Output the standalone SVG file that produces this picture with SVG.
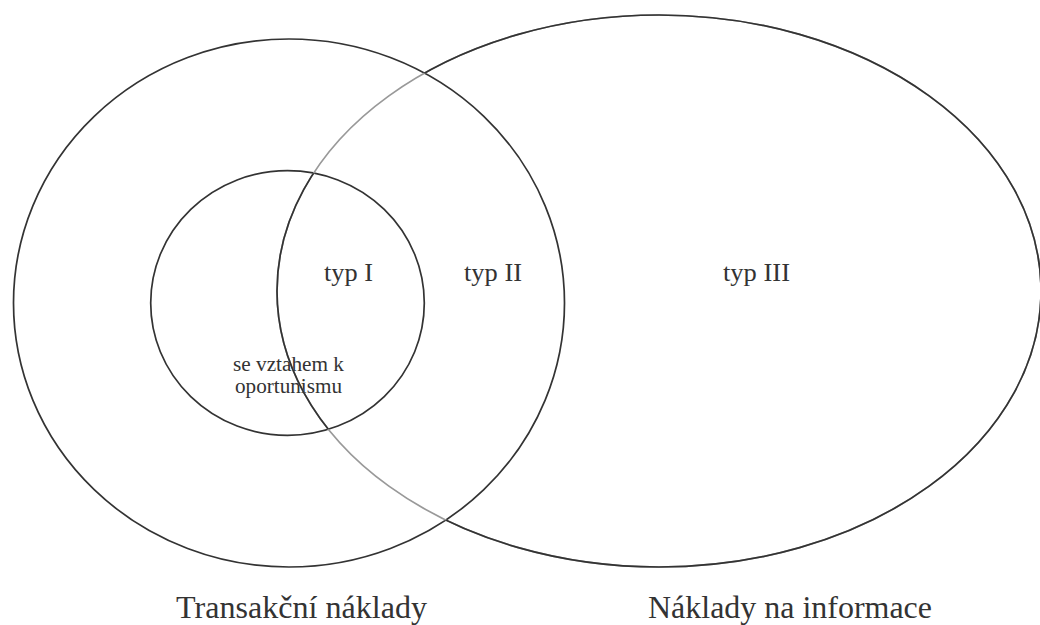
<svg xmlns="http://www.w3.org/2000/svg" width="1040" height="625" viewBox="0 0 1040 625">
<style>
.ln{fill:none;stroke:#333;stroke-width:1.7}
.gr{fill:none;stroke:#999;stroke-width:1.7}
text{font-family:"Liberation Serif","Times New Roman",serif;fill:#333}
.big{font-size:26px}
.sm{font-size:20px}
.lbl{font-size:32px}
</style>
<defs>
<clipPath id="outer">
<path clip-rule="evenodd" d="M-10,-10H1060V640H-10Z M13.5,303a275.5,264 0 1,0 551,0a275.5,264 0 1,0 -551,0Z M150.7,303a136.8,132.3 0 1,0 273.6,0a136.8,132.3 0 1,0 -273.6,0Z"/>
</clipPath>
</defs>
<rect width="1040" height="625" fill="#fff"/>
<g id="transakcni">
<ellipse class="ln" cx="289" cy="303" rx="275.5" ry="264"/>
<text class="lbl" x="176" y="618" textLength="251" lengthAdjust="spacingAndGlyphs">Transakční náklady</text>
</g>
<g id="oportunismus">
<ellipse class="ln" cx="287.5" cy="303" rx="136.8" ry="132.3"/>
<text class="sm" x="233" y="371" textLength="111" lengthAdjust="spacingAndGlyphs">se vztahem k</text>
<text class="sm" x="235" y="393" textLength="107" lengthAdjust="spacingAndGlyphs">oportunismu</text>
</g>
<g id="informace">
<ellipse class="gr" cx="659" cy="291" rx="382" ry="276"/>
<ellipse class="ln" cx="659" cy="291" rx="382" ry="276" clip-path="url(#outer)"/>
<text class="lbl" x="648" y="618" textLength="284" lengthAdjust="spacingAndGlyphs">Náklady na informace</text>
</g>
<g id="typ1"><text class="big" x="324" y="281" textLength="49" lengthAdjust="spacingAndGlyphs">typ I</text></g>
<g id="typ2"><text class="big" x="464" y="281" textLength="58" lengthAdjust="spacingAndGlyphs">typ II</text></g>
<g id="typ3"><text class="big" x="723" y="281" textLength="67" lengthAdjust="spacingAndGlyphs">typ III</text></g>
<g id="connectors"/>
</svg>
